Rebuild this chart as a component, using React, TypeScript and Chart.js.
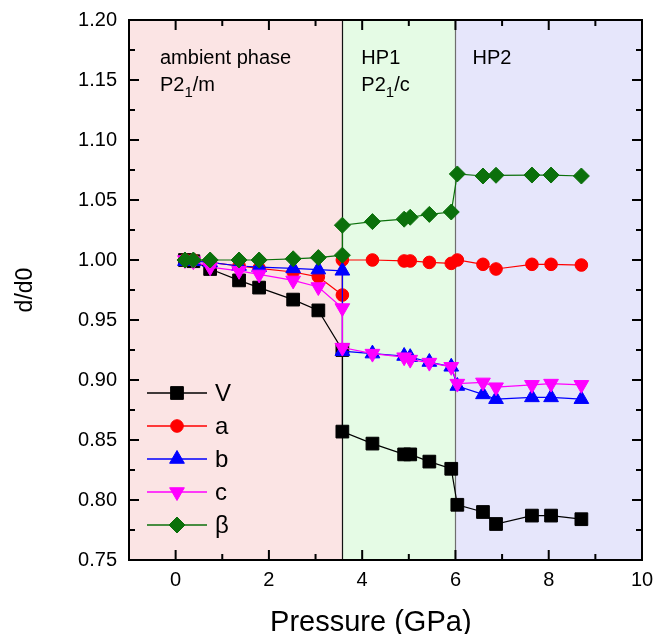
import { useEffect, useRef } from "react";
import { Chart, registerables } from "chart.js";
import { drawPoint } from "chart.js/helpers";

Chart.register(...registerables);

// Pressure (GPa) of each measurement
const pressure = [0.2, 0.38, 0.74, 1.36, 1.79, 2.52, 3.06, 3.575, 3.575, 4.22, 4.9, 5.03, 5.44, 5.91, 6.04, 6.59, 6.87, 7.64, 8.05, 8.7];

// Relative lattice parameters d/d0
const volumeV = [1.0, 0.999, 0.9925, 0.983, 0.977, 0.967, 0.958, 0.925, 0.857, 0.847, 0.838, 0.838, 0.832, 0.826, 0.796, 0.79, 0.78, 0.787, 0.787, 0.784];
const axisA = [1.0, 1.0, 0.998, 0.995, 0.993, 0.99, 0.986, 0.9708, 1.0, 1.0, 0.9992, 0.9992, 0.998, 0.9972, 1.0, 0.9964, 0.9925, 0.9964, 0.9964, 0.9958];
const axisB = [0.999, 0.999, 0.998, 0.995, 0.994, 0.993, 0.992, 0.991, 0.924, 0.922, 0.92, 0.919, 0.915, 0.911, 0.895, 0.888, 0.884, 0.8855, 0.8855, 0.884];
const axisC = [1.0, 0.999, 0.994, 0.991, 0.988, 0.983, 0.9775, 0.96, 0.927, 0.922, 0.919, 0.917, 0.9145, 0.911, 0.897, 0.898, 0.894, 0.896, 0.897, 0.896];
const angleBeta = [1.0, 1.0, 1.0, 1.0, 1.0, 1.001, 1.002, 1.004, 1.029, 1.032, 1.034, 1.0356, 1.038, 1.04, 1.0717, 1.07, 1.0706, 1.0708, 1.0708, 1.07];

const seriesLabels = ["V", "a", "b", "c", "β"];

// Axis ticks
const xTicks = [0, 2, 4, 6, 8, 10];
const xMinorTicks = [1, 3, 5, 7, 9];
const yTicks = [0.75, 0.8, 0.85, 0.9, 0.95, 1.0, 1.05, 1.1, 1.15, 1.2];
const yMinorTicks = [0.775, 0.825, 0.875, 0.925, 0.975, 1.025, 1.075, 1.125, 1.175];

// Phase regions along the pressure axis
const phaseBounds = [-1, 3.575, 6.0, 10];
const phaseTitles = ["ambient phase", "HP1", "HP2"];
const phaseGroups = [["P2", "1", "/m"], ["P2", "1", "/c"], null];

const FONT = "'Liberation Sans', Arial, sans-serif";

const styles = [
  { color: "#000000", pointStyle: "rect", radius: 9, rotation: 0 },
  { color: "#ff0000", pointStyle: "circle", radius: 6.3, rotation: 0 },
  { color: "#0000ff", pointStyle: "triangle", radius: 8.5, rotation: 0 },
  { color: "#ff00ff", pointStyle: "triangle", radius: 8.5, rotation: 180 },
  { color: "#0b700b", pointStyle: "rectRot", radius: 8, rotation: 0 },
];

const phaseFills = ["#fbe4e4", "#e5fbe5", "#e6e6fb"];

const decorPlugin = {
  id: "decor",
  beforeDatasetsDraw(chart: any) {
    const { ctx, chartArea, scales } = chart;
    const { top, bottom } = chartArea;
    const xs = scales.x;
    ctx.save();
    for (let i = 0; i < phaseFills.length; i++) {
      const x0 = xs.getPixelForValue(phaseBounds[i]);
      const x1 = xs.getPixelForValue(phaseBounds[i + 1]);
      ctx.fillStyle = phaseFills[i];
      ctx.fillRect(x0, top, x1 - x0, bottom - top);
    }
    // boundaries between phases
    const lineColors = ["#111111", "#6e6e6e"];
    for (let i = 1; i < phaseBounds.length - 1; i++) {
      const px = Math.round(xs.getPixelForValue(phaseBounds[i])) + 0.5;
      ctx.strokeStyle = lineColors[i - 1];
      ctx.lineWidth = 1.2;
      ctx.beginPath();
      ctx.moveTo(px, top);
      ctx.lineTo(px, bottom);
      ctx.stroke();
    }
    // phase names
    const offsets = [31, 19, 17];
    ctx.fillStyle = "#000";
    ctx.textBaseline = "alphabetic";
    ctx.textAlign = "left";
    for (let i = 0; i < phaseTitles.length; i++) {
      const tx = xs.getPixelForValue(phaseBounds[i]) + offsets[i];
      ctx.font = `20px ${FONT}`;
      ctx.fillText(phaseTitles[i], tx, top + 44);
      const g = phaseGroups[i];
      if (g) {
        let cx = tx;
        ctx.font = `20px ${FONT}`;
        ctx.fillText(g[0], cx, top + 71);
        cx += ctx.measureText(g[0]).width;
        ctx.font = `15px ${FONT}`;
        ctx.fillText(g[1], cx, top + 77);
        cx += ctx.measureText(g[1]).width;
        ctx.font = `20px ${FONT}`;
        ctx.fillText(g[2], cx, top + 71);
      }
    }
    ctx.restore();
  },
  afterDraw(chart: any) {
    const { ctx, chartArea, scales } = chart;
    const { top, bottom, left, right } = chartArea;
    const xs = scales.x;
    const ys = scales.y;
    ctx.save();
    ctx.strokeStyle = "#000";
    ctx.lineWidth = 2;
    ctx.lineCap = "butt";
    const major = 10;
    const minor = 6;
    const vTick = (v: number, len: number) => {
      const px = xs.getPixelForValue(v);
      ctx.beginPath();
      ctx.moveTo(px, bottom);
      ctx.lineTo(px, bottom - len);
      ctx.moveTo(px, top);
      ctx.lineTo(px, top + len);
      ctx.stroke();
    };
    const hTick = (v: number, len: number) => {
      const py = ys.getPixelForValue(v);
      ctx.beginPath();
      ctx.moveTo(left, py);
      ctx.lineTo(left + len, py);
      ctx.moveTo(right, py);
      ctx.lineTo(right - len, py);
      ctx.stroke();
    };
    xTicks.forEach((v) => vTick(v, major));
    xMinorTicks.forEach((v) => vTick(v, minor));
    yTicks.forEach((v) => hTick(v, major));
    yMinorTicks.forEach((v) => hTick(v, minor));
    ctx.strokeRect(left, top, right - left, bottom - top);

    // legend
    const lx0 = left + 18;
    const lx1 = left + 78;
    const mx = left + 48;
    const tx = left + 86;
    chart.data.datasets.forEach((ds: any, i: number) => {
      const cy = top + 373 + i * 33;
      const st = styles[i];
      ctx.strokeStyle = st.color;
      ctx.lineWidth = 1.5;
      ctx.beginPath();
      ctx.moveTo(lx0, cy);
      ctx.lineTo(lx1, cy);
      ctx.stroke();
      ctx.fillStyle = st.color;
      ctx.lineWidth = 1;
      drawPoint(ctx, { pointStyle: st.pointStyle, radius: st.radius, rotation: st.rotation, borderWidth: 1 } as any, mx, cy);
      ctx.fillStyle = "#000";
      ctx.font = `24px ${FONT}`;
      ctx.textAlign = "left";
      ctx.textBaseline = "middle";
      ctx.fillText(ds.label, tx, cy + 1);
    });

    // axis titles
    ctx.fillStyle = "#000";
    ctx.font = `29px ${FONT}`;
    ctx.textAlign = "center";
    ctx.textBaseline = "alphabetic";
    ctx.fillText("Pressure (GPa)", (xs.getPixelForValue(xTicks[0]) + xs.getPixelForValue(xTicks[xTicks.length - 1])) / 2 - 38, 631);
    ctx.translate(32, (top + bottom) / 2);
    ctx.rotate(-Math.PI / 2);
    ctx.font = `23px ${FONT}`;
    ctx.fillText("d/d0", 0, 0);
    ctx.restore();
  },
};

export default function App() {
  const canvasRef = useRef<HTMLCanvasElement | null>(null);

  useEffect(() => {
    const canvas = canvasRef.current;
    if (!canvas) return;
    const seriesValues = [volumeV, axisA, axisB, axisC, angleBeta];
    const datasets = seriesValues.map((vals, i) => ({
      label: seriesLabels[i],
      data: pressure.map((p, j) => ({ x: p, y: vals[j] })),
      borderColor: styles[i].color,
      backgroundColor: styles[i].color,
      borderWidth: 1.2,
      pointStyle: styles[i].pointStyle,
      pointRadius: styles[i].radius,
      pointRotation: styles[i].rotation,
      pointBorderWidth: 1,
      pointBorderColor: styles[i].color,
      pointBackgroundColor: styles[i].color,
      tension: 0,
      order: seriesValues.length - i,
    }));

    const chart = new Chart(canvas, {
      type: "line",
      data: { datasets },
      plugins: [decorPlugin],
      options: {
        animation: false,
        responsive: true,
        maintainAspectRatio: false,
        layout: { padding: { top: 20, right: 15, left: 0, bottom: 0 } },
        plugins: { legend: { display: false }, tooltip: { enabled: false } },
        scales: {
          x: {
            type: "linear",
            min: -1,
            max: 10,
            grid: { display: false, drawTicks: false },
            border: { display: false },
            afterBuildTicks: (s: any) => {
              s.ticks = xTicks.map((v) => ({ value: v }));
            },
            afterFit: (s: any) => {
              s.height = 74;
              s.paddingLeft = 0;
              s.paddingRight = 0;
            },
            ticks: {
              padding: 8,
              color: "#000",
              font: { family: FONT, size: 20 },
              callback: (v: any) => String(v),
            },
          },
          y: {
            type: "linear",
            min: 0.75,
            max: 1.2,
            grid: { display: false, drawTicks: false },
            border: { display: false },
            afterBuildTicks: (s: any) => {
              s.ticks = yTicks.map((v) => ({ value: v }));
            },
            afterFit: (s: any) => {
              s.width = 129;
              s.paddingTop = 0;
              s.paddingBottom = 0;
            },
            ticks: {
              padding: 12,
              color: "#000",
              font: { family: FONT, size: 20 },
              callback: (v: any) => Number(v).toFixed(2),
            },
          },
        },
      } as any,
    });
    return () => chart.destroy();
  }, []);

  return (
    <div style={{ position: "fixed", left: 0, top: 0, width: 657, height: 634, background: "#fff" }}>
      <canvas ref={canvasRef} />
    </div>
  );
}
